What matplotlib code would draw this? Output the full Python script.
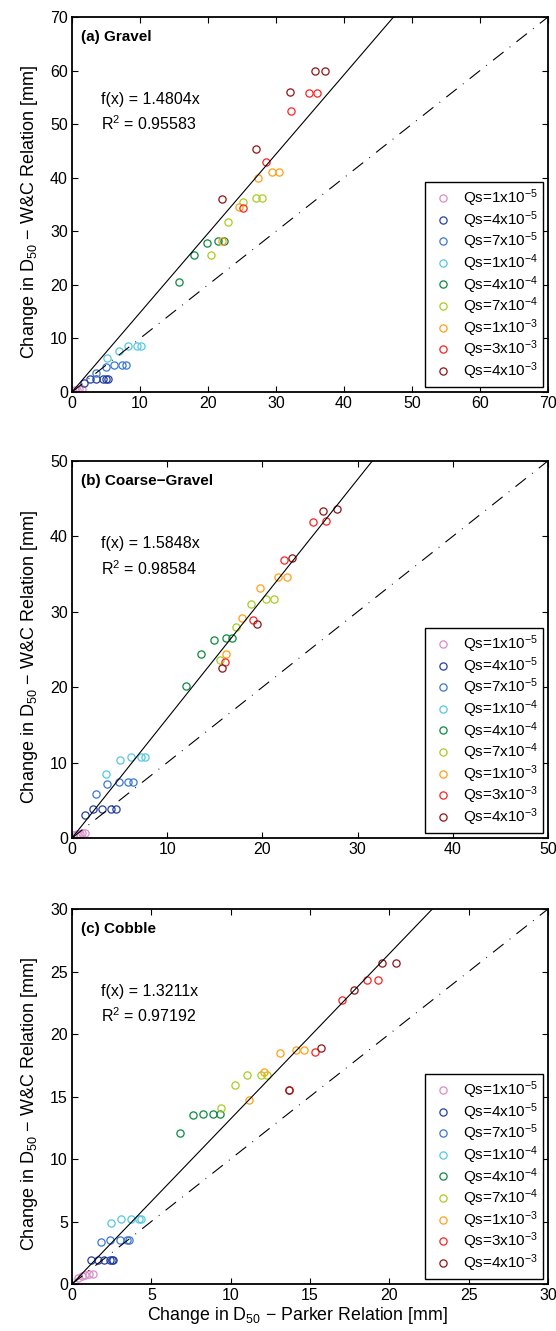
import numpy as np
import matplotlib
matplotlib.use("Agg")
import matplotlib.pyplot as plt

plt.rcParams["font.family"] = ["Liberation Sans", "DejaVu Sans"]
plt.rcParams["mathtext.fontset"] = "custom"
plt.rcParams["mathtext.rm"] = "Liberation Sans"
plt.rcParams["mathtext.it"] = "Liberation Sans:italic"
plt.rcParams["mathtext.bf"] = "Liberation Sans:bold"

# sediment supply classes
labels = ["Qs=1x10$^{-5}$", "Qs=4x10$^{-5}$", "Qs=7x10$^{-5}$", "Qs=1x10$^{-4}$",
          "Qs=4x10$^{-4}$", "Qs=7x10$^{-4}$", "Qs=1x10$^{-3}$", "Qs=3x10$^{-3}$",
          "Qs=4x10$^{-3}$"]
colors = ["#d98cc8", "#2440a0", "#3b78cf", "#55c8e0", "#0d8a40",
          "#a8cc22", "#ffa015", "#f52525", "#8e1515"]

# (a) Gravel : x = Parker, y = W&C
gravel_x = [
    [0.2, 0.5, 0.8, 1.1, 1.5],
    [1.8, 2.6, 3.6, 4.5, 5.0, 5.3],
    [3.5, 4.95, 6.2, 7.35, 8.0],
    [5.15, 6.9, 8.3, 9.5, 10.1],
    [15.7, 18.0, 19.9, 21.5, 22.4],
    [20.5, 23.0, 25.1, 27.0, 27.9],
    [22.1, 24.5, 27.3, 29.4, 30.4],
    [25.2, 28.6, 32.2, 34.9, 36.1],
    [22.0, 27.0, 32.0, 35.8, 37.2],
]
gravel_y = [
    [0.2, 0.3, 0.4, 0.5, 0.5],
    [1.6, 2.4, 2.4, 2.4, 2.4, 2.4],
    [3.5, 4.6, 5.0, 5.0, 5.0],
    [6.3, 7.7, 8.5, 8.5, 8.5],
    [20.6, 25.6, 27.8, 28.2, 28.2],
    [25.6, 31.7, 35.5, 36.3, 36.3],
    [28.2, 34.6, 39.9, 41.1, 41.1],
    [34.3, 43.0, 52.5, 55.9, 55.9],
    [36.0, 45.3, 56.0, 60.0, 60.0],
]

# (b) Coarse-Gravel
coarse_x = [
    [0.15, 0.5, 0.8, 1.1, 1.4],
    [1.4, 2.2, 3.2, 4.1, 4.6],
    [2.55, 3.7, 4.9, 5.9, 6.4],
    [3.6, 5.0, 6.2, 7.2, 7.7],
    [12.0, 13.6, 14.9, 16.2, 16.8],
    [15.6, 17.2, 18.8, 20.4, 21.2],
    [16.2, 17.9, 19.7, 21.6, 22.6],
    [16.1, 19.0, 22.3, 25.3, 26.7],
    [15.8, 19.4, 23.1, 26.4, 27.8],
]
coarse_y = [
    [0.4, 0.5, 0.5, 0.6, 0.6],
    [3.1, 3.8, 3.8, 3.8, 3.8],
    [5.9, 7.2, 7.4, 7.4, 7.4],
    [8.5, 10.3, 10.7, 10.7, 10.7],
    [20.2, 24.4, 26.3, 26.5, 26.5],
    [23.6, 28.0, 31.0, 31.7, 31.7],
    [24.4, 29.2, 33.2, 34.6, 34.6],
    [23.3, 28.9, 36.8, 41.9, 42.0],
    [22.5, 28.4, 37.1, 43.4, 43.6],
]

# (c) Cobble
cobble_x = [
    [0.35, 0.6, 0.85, 1.1, 1.3],
    [1.2, 1.64, 2.0, 2.4, 2.55, 2.6],
    [1.83, 2.4, 3.0, 3.45, 3.6],
    [2.44, 3.1, 3.7, 4.2, 4.35],
    [6.8, 7.6, 8.25, 8.9, 9.3],
    [9.4, 10.25, 11.0, 11.9, 12.3],
    [11.15, 12.1, 13.1, 14.1, 14.6],
    [13.7, 15.3, 17.0, 18.6, 19.3],
    [13.7, 15.7, 17.8, 19.55, 20.4],
]
cobble_y = [
    [0.5, 0.65, 0.75, 0.8, 0.8],
    [1.95, 1.95, 1.95, 1.95, 1.95, 1.95],
    [3.36, 3.5, 3.5, 3.5, 3.5],
    [4.9, 5.2, 5.2, 5.2, 5.2],
    [12.1, 13.5, 13.6, 13.6, 13.6],
    [14.05, 15.9, 16.7, 16.7, 16.7],
    [14.7, 17.0, 18.5, 18.7, 18.7],
    [15.5, 18.6, 22.7, 24.3, 24.3],
    [15.5, 18.9, 23.5, 25.7, 25.7],
]

panels = [
    ("(a) Gravel", gravel_x, gravel_y, 70, 10, "1.4804", "0.95583", 1.4804),
    ("(b) Coarse\u2212Gravel", coarse_x, coarse_y, 50, 10, "1.5848", "0.98584", 1.5848),
    ("(c) Cobble", cobble_x, cobble_y, 30, 5, "1.3211", "0.97192", 1.3211),
]
bottoms = [0.7055, 0.3704, 0.0353]
heights = [0.2817, 0.2833, 0.2817]

fig = plt.figure(figsize=(5.56, 13.31), dpi=100)

for i, (title, xs, ys, lim, step, slope_txt, r2_txt, slope) in enumerate(panels):
    ax = fig.add_axes([0.1295, bottoms[i], 0.856, heights[i]])
    for xx, yy, c, lab in zip(xs, ys, colors, labels):
        ax.plot(xx, yy, "o", mfc="none", mec=c, ms=5.2, mew=0.9, label=lab)
    line = np.array([0, lim])
    ax.plot(line, slope * line, "-", color="black", lw=0.8)
    ax.plot(line, line, color="black", lw=0.8, linestyle=(0, (12, 7, 0.8, 7)))
    ax.set_xlim(0, lim)
    ax.set_ylim(0, lim)
    ticks = np.arange(0, lim + 1, step)
    ax.set_xticks(ticks)
    ax.set_yticks(ticks)
    ax.tick_params(direction="in", top=True, right=True, length=4, width=0.8,
                   labelsize=11.5, pad=3)
    for s in ax.spines.values():
        s.set_linewidth(1.3)
    ax.text(0.018, 0.965, title, transform=ax.transAxes, fontsize=11,
            fontweight="bold", va="top", ha="left")
    ax.text(0.06, 0.78, "f(x) = " + slope_txt + "x", transform=ax.transAxes,
            fontsize=11.5, va="center")
    ax.text(0.06, 0.715, "R$^2$ = " + r2_txt, transform=ax.transAxes,
            fontsize=11.5, va="center")
    ax.set_ylabel("Change in D$_{50}$ \u2212 W&C Relation [mm]", fontsize=13)
    ax.yaxis.set_label_coords(-0.068, 0.48)
    leg = ax.legend(loc="lower right", fontsize=11, handlelength=1.6,
                    handletextpad=0.5, borderpad=0.35, labelspacing=0.0,
                    borderaxespad=0.3, fancybox=False, framealpha=1,
                    numpoints=1)
    leg.get_frame().set_edgecolor("black")
    leg.get_frame().set_linewidth(1.0)
    if i == 2:
        ax.set_xlabel("Change in D$_{50}$ \u2212 Parker Relation [mm]",
                      fontsize=12.8)
        ax.xaxis.set_label_coords(0.473, -0.055)

fig.savefig("out.png", dpi=100)
